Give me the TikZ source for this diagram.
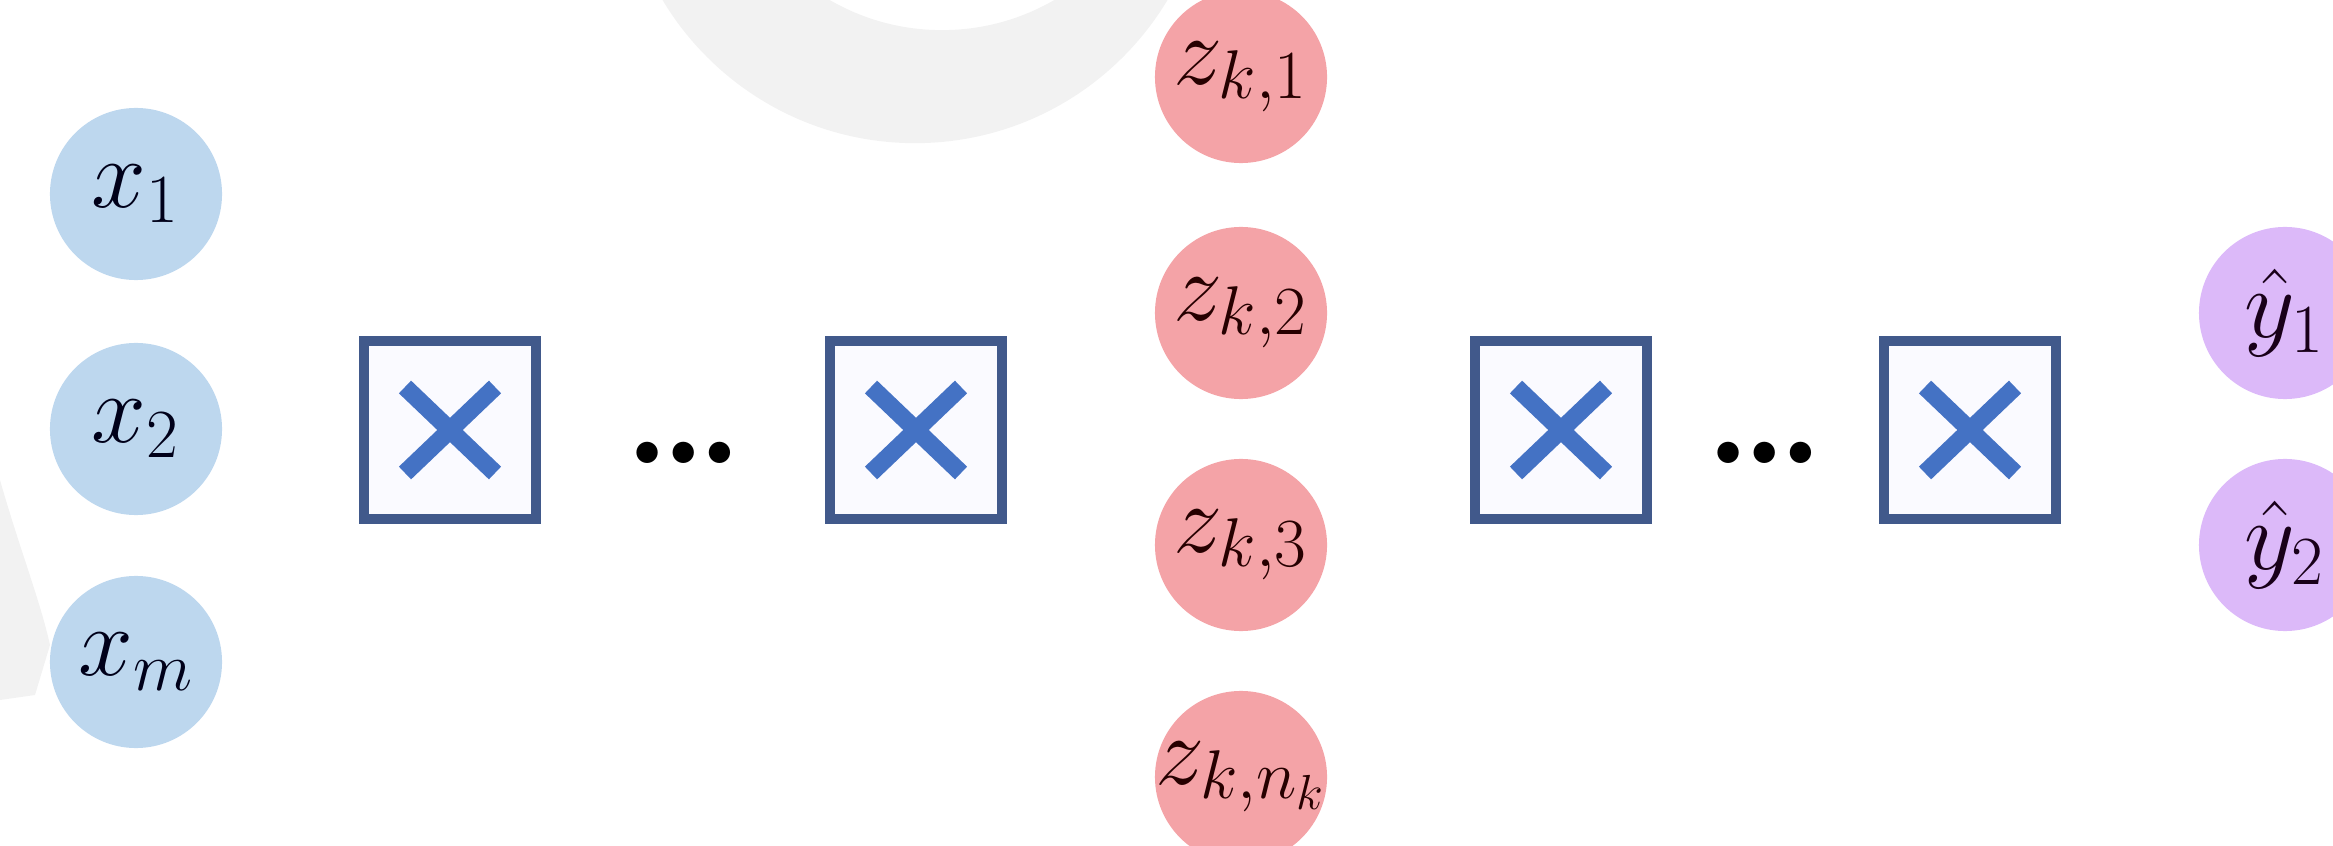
\RequirePackage{fix-cm}
\documentclass[tikz,border=0pt]{standalone}
\usepackage{amsmath,amssymb}
\usepackage{tikz}
\usetikzlibrary{positioning,calc}
\definecolor{inblue}{HTML}{BDD7EE}
\definecolor{hidred}{HTML}{F4A3A7}
\definecolor{outpurple}{HTML}{DCB9F9}
\definecolor{boxline}{HTML}{41598B}
\definecolor{crossblue}{HTML}{4472C4}
\definecolor{ringgray}{HTML}{F2F2F2}

\begin{document}
\begin{tikzpicture}[x=0.01cm, y=-0.01cm,
    unit/.style={circle, minimum size=1.72cm, inner sep=0pt, font=\fontsize{28}{30}\selectfont},
    inunit/.style={unit, fill=inblue, text=black!90!blue},
    hidunit/.style={unit, fill=hidred, text=black!85!red},
    outunit/.style={unit, fill=outpurple, text=black!80!violet},
    layer/.style={draw=boxline, line width=2.85pt, fill=blue!2, minimum width=1.72cm, minimum height=1.77cm, inner sep=0pt},
    cross/.style={crossblue, line width=5pt},
    skip/.style={anchor=base, inner sep=0pt, font=\fontsize{42}{44}\selectfont\bfseries}]
    \useasboundingbox (0,0) rectangle (2333,846);
    \clip (0,0) rectangle (2333,846);

    % Faint background rings
    \fill[ringgray, even odd rule] (915,-151) circle[radius=2.94cm] (942,-194) circle[radius=2.24cm];
    \fill[ringgray] (0,480) .. controls (20,550) and (40,600) .. (50,645) -- (35,695) -- (0,700) -- cycle;

    % Input units
    \node[inunit] (x1) at (136,194) {$x_1$};
    \node[inunit] (x2) at (136,429) {$x_2$};
    \node[inunit] (xm) at (136,662) {$x_m$};

    % Hidden units
    \node[hidunit] (z1) at (1241,77)  {$z_{k,1}$};
    \node[hidunit] (z2) at (1241,313) {$z_{k,2}$};
    \node[hidunit] (z3) at (1241,545) {$z_{k,3}$};
    \node[hidunit] (zn) at (1241,777) {\makebox[0pt]{$z_{k,n_k}$}};

    % Output units
    \node[outunit] (y1) at (2285,313) {$\hat{y}_1$};
    \node[outunit] (y2) at (2285,545) {$\hat{y}_2$};

    % Layers
    \node[layer] (l1) at (450,430) {};
    \node[layer] (l2) at (916,430) {};
    \node[layer] (l3) at (1561,430) {};
    \node[layer] (l4) at (1970,430) {};
    \node[skip] (d1) at (684,464) {\ldots};
    \node[skip] (d2) at (1765,464) {\ldots};

    \foreach \l in {l1,l2,l3,l4} {
        \draw[cross] ([shift={(-45,-43)}]\l.center) -- ([shift={(45,43)}]\l.center);
        \draw[cross] ([shift={(-45,43)}]\l.center) -- ([shift={(45,-43)}]\l.center);
    }

\end{tikzpicture}
\end{document}
